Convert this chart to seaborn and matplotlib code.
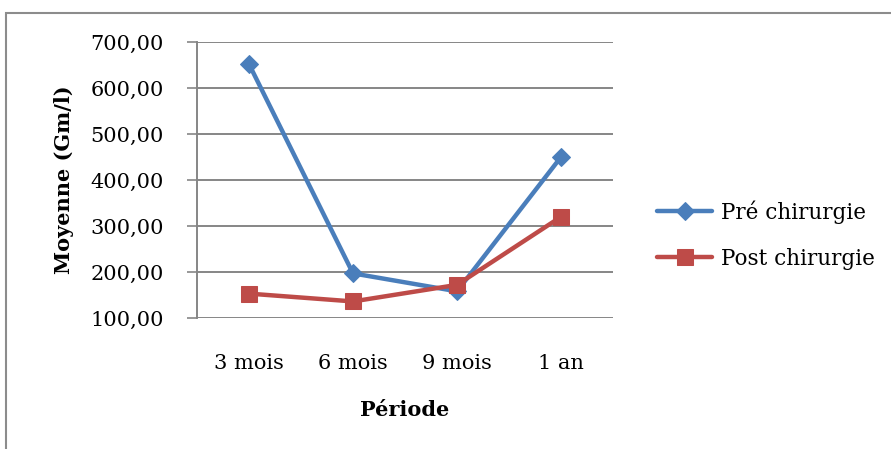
import matplotlib
matplotlib.use("Agg")
import matplotlib.pyplot as plt
import matplotlib.patches as patches
import pandas as pd
import seaborn as sns

# data
periodes = ["3 mois", "6 mois", "9 mois", "1 an"]
pre_chirurgie = [652, 197, 158, 450]
post_chirurgie = [153, 136, 172, 320]
y_ticks = [100, 200, 300, 400, 500, 600, 700]

sns.set_theme(style="white")
plt.rcParams['font.family'] = ['DejaVu Serif']
plt.rcParams['text.color'] = 'black'
plt.rcParams['axes.labelcolor'] = 'black'
plt.rcParams['xtick.labelcolor'] = 'black'
plt.rcParams['ytick.labelcolor'] = 'black'

df = pd.DataFrame({
    "Période": periodes * 2,
    "Moyenne": pre_chirurgie + post_chirurgie,
    "Groupe": ["Pré chirurgie"] * 4 + ["Post chirurgie"] * 4,
})

fig = plt.figure(figsize=(8.91, 4.49), dpi=100)
ax = fig.add_axes([197 / 891, 1 - 318 / 449, 416 / 891, 276 / 449])

# outer chart frame
fig.patches.append(patches.Rectangle((6 / 891, -0.05), 1.0, 1 - 13 / 449 + 0.05,
                                     transform=fig.transFigure, fill=False,
                                     edgecolor="#8c8c8c", linewidth=1.5))

colors = {"Pré chirurgie": "#4A7EBB", "Post chirurgie": "#BE4B48"}
markers = {"Pré chirurgie": "D", "Post chirurgie": "s"}
sizes = {"Pré chirurgie": 9, "Post chirurgie": 11}

x_pos = {p: i for i, p in enumerate(periodes)}
df["x"] = df["Période"].map(x_pos)

for grp in ["Pré chirurgie", "Post chirurgie"]:
    sub = df[df["Groupe"] == grp]
    sns.lineplot(data=sub, x="x", y="Moyenne", ax=ax, color=colors[grp],
                 linewidth=3.2, marker=markers[grp], markersize=sizes[grp],
                 markeredgecolor=colors[grp], label=grp, sort=False)

ax.set_xlim(-0.5, 3.5)
ax.set_ylim(100, 700)
ax.set_yticks(y_ticks)
ax.set_yticklabels([f"{v:.2f}".replace(".", ",") for v in y_ticks], fontsize=15)
ax.set_xticks(range(len(periodes)))
ax.set_xticklabels(periodes, fontsize=15)
ax.tick_params(axis="x", length=0, pad=33)
ax.tick_params(axis="y", length=7, width=1.2, color="#868686", left=True, pad=17)
for lbl in ax.get_xticklabels():
    lbl.set_verticalalignment("center")

ax.grid(axis="y", color="#868686", linewidth=1.4)
ax.set_axisbelow(True)
for s in ["top", "right", "bottom"]:
    ax.spines[s].set_visible(False)
ax.spines["left"].set_color("#868686")
ax.spines["left"].set_linewidth(1.4)

ax.set_xlabel("Période", fontsize=15, fontweight="bold", labelpad=19)
ax.set_ylabel("Moyenne (Gm/l)", fontsize=15, fontweight="bold", labelpad=12)

ax.legend(loc="center left", bbox_to_anchor=(1.07, 0.30), frameon=False,
          fontsize=15.5, handlelength=2.55, handletextpad=0.4, labelspacing=1.12,
          borderaxespad=0.3)

fig.savefig("out.png", dpi=100)
